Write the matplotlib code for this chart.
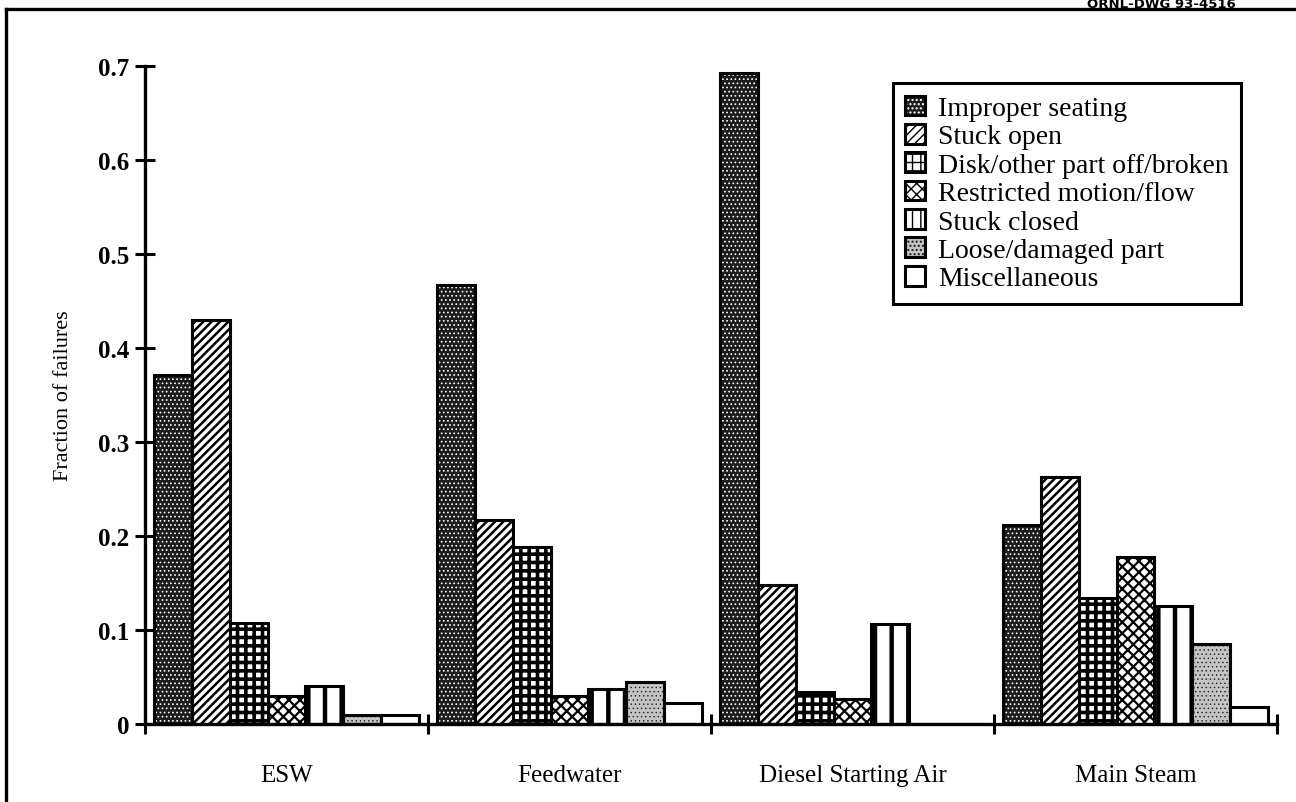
import logging as log
import matplotlib as mpl
mpl.use("Agg")
import matplotlib.pyplot as plt
from matplotlib.lines import Line2D
from matplotlib.patches import Patch
import numpy as np

#-------------------------------------------------------------------------------

systems = ["ESW", "Feedwater", "Diesel Starting Air", "Main Steam"]

failure_modes = [
  "Improper seating",
  "Stuck open",
  "Disk/other part off/broken",
  "Restricted motion/flow",
  "Stuck closed",
  "Loose/damaged part",
  "Miscellaneous",
]

# Fraction of failures for each system, one list per failure mode
improper_seating = [0.371, 0.467, 0.692, 0.212]
stuck_open       = [0.430, 0.217, 0.148, 0.263]
disk_off_broken  = [0.107, 0.188, 0.034, 0.134]
restricted_flow  = [0.030, 0.030, 0.027, 0.178]
stuck_closed     = [0.040, 0.037, 0.106, 0.126]
loose_damaged    = [0.010, 0.045, 0.000, 0.085]
miscellaneous    = [0.010, 0.022, 0.000, 0.018]

y_ticks = [0.0, 0.1, 0.2, 0.3, 0.4, 0.5, 0.6, 0.7]
y_tick_labels = ["0", "0.1", "0.2", "0.3", "0.4", "0.5", "0.6", "0.7"]

drawing_number = "ORNL-DWG 93-4516"

#-------------------------------------------------------------------------------

class FillStyle:
  """ Black & white fill pattern of one failure mode.
  """
  def __init__(self, face, hatch, hatch_color, hatch_lw, legend_hatch=None):
    self.face = face
    self.hatch = hatch
    self.hatch_color = hatch_color
    self.hatch_lw = hatch_lw
    # small legend boxes may need a denser pattern to show anything
    self.legend_hatch = legend_hatch if legend_hatch else hatch

fill_styles = (
  FillStyle("#1c1c1c", "....", "white",   0.7),  # dark stipple
  FillStyle("white",   "////", "black",   1.8),
  FillStyle("white",   "++",   "black",   2.6),
  FillStyle("white",   "xxx",  "black",   1.6),
  FillStyle("white",   "|",    "black",   3.2, legend_hatch="||"),
  FillStyle("#c4c4c4", "....", "#1a1a1a", 0.5),  # light stipple
  FillStyle("white",   None,   "white",   1.0),
)

outline_lw = 2.2

#-------------------------------------------------------------------------------

def styled_bars(ax, x, heights, width, style):
  # Pattern layer first (hatch takes the edge colour), black outline on top
  with plt.rc_context({"hatch.linewidth": style.hatch_lw}):
    ax.bar(x, heights, width, color=style.face, edgecolor=style.hatch_color,
           hatch=style.hatch, linewidth=0, zorder=2)
  ax.bar(x, heights, width, fill=False, edgecolor="black",
         linewidth=outline_lw, zorder=3)

def legend_handle(style):
  with plt.rc_context({"hatch.linewidth": style.hatch_lw}):
    pattern = Patch(facecolor=style.face, edgecolor=style.hatch_color,
                    hatch=style.legend_hatch, linewidth=0)
  outline = Patch(fill=False, edgecolor="black", linewidth=outline_lw)
  return (pattern, outline)

#-------------------------------------------------------------------------------

def plot_failure_fractions(out_path="out.png"):
  fractions = np.array([improper_seating, stuck_open, disk_off_broken,
                        restricted_flow, stuck_closed, loose_damaged,
                        miscellaneous])
  n_modes, n_systems = fractions.shape
  log.debug("{} failure modes for {} systems".format(n_modes, n_systems))

  serif = ["Liberation Serif", "DejaVu Serif"]

  fig = plt.figure(figsize=(12.96, 8.03), dpi=100)
  ax = fig.add_axes([0.1119, 0.0971, 0.9853 - 0.1119, 0.9166 - 0.0971])

  # Bars of one group fill the group with a small gap on both sides
  bar_w = 0.1336
  edge_gap = (1.0 - n_modes * bar_w) / 2.0
  group_x = np.arange(n_systems)
  for i_mode in range(n_modes):
    x = group_x + edge_gap + (i_mode + 0.5) * bar_w
    styled_bars(ax, x, fractions[i_mode], bar_w, fill_styles[i_mode])

  ax.set_xlim(0, n_systems)
  ax.set_ylim(0, 0.7)

  for side in ("top", "right"):
    ax.spines[side].set_visible(False)
  for side in ("left", "bottom"):
    ax.spines[side].set_linewidth(2.4)
    ax.spines[side].set_zorder(4)

  # y axis: bold values, ticks crossing the axis
  ax.set_yticks(y_ticks)
  ax.set_yticklabels(y_tick_labels, family=serif, fontweight="bold", fontsize=18)
  ax.tick_params(axis="y", direction="inout", length=15, width=2.2, pad=4)

  # x axis: ticks on group boundaries, names centred on the groups
  ax.set_xticks(np.arange(n_systems + 1))
  ax.set_xticklabels([])
  ax.tick_params(axis="x", which="major", direction="inout", length=15, width=2.2)
  ax.set_xticks(group_x + 0.5, minor=True)
  ax.set_xticklabels(systems, minor=True, family=serif, fontsize=18)
  ax.tick_params(axis="x", which="minor", length=0, pad=29)

  ax.set_ylabel("Fraction of failures", family=serif, fontsize=16)
  ax.yaxis.set_label_coords(-0.064, 0.5)

  handles = [legend_handle(s) for s in fill_styles]
  leg = ax.legend(handles, failure_modes, loc="upper right",
                  bbox_to_anchor=(1241 / 1296, 1 - 84 / 803),
                  bbox_transform=fig.transFigure,
                  prop={"family": serif, "size": 20},
                  fancybox=False, framealpha=1, edgecolor="black",
                  handlelength=0.72, handleheight=0.72, handletextpad=0.45,
                  labelspacing=0.1, borderpad=0.45, borderaxespad=0)
  leg.get_frame().set_linewidth(2.2)
  leg.set_zorder(5)

  # Drawing frame and number
  fig.add_artist(Line2D([6 / 1296, 6 / 1296], [0, 1 - 10 / 803],
                        transform=fig.transFigure, color="black", lw=2.4))
  fig.add_artist(Line2D([6 / 1296, 1], [1 - 10 / 803, 1 - 10 / 803],
                        transform=fig.transFigure, color="black", lw=2.4))
  fig.text(1236 / 1296, 1 - 8 / 803, drawing_number, ha="right", va="baseline",
           fontsize=9.5, fontweight="bold", family="DejaVu Sans")

  fig.savefig(out_path, dpi=100)
  plt.close(fig)

#-------------------------------------------------------------------------------

def main():
  log.basicConfig(level=log.WARNING)
  plot_failure_fractions()

#-------------------------------------------------------------------------------

if __name__ == "__main__":
  main()
